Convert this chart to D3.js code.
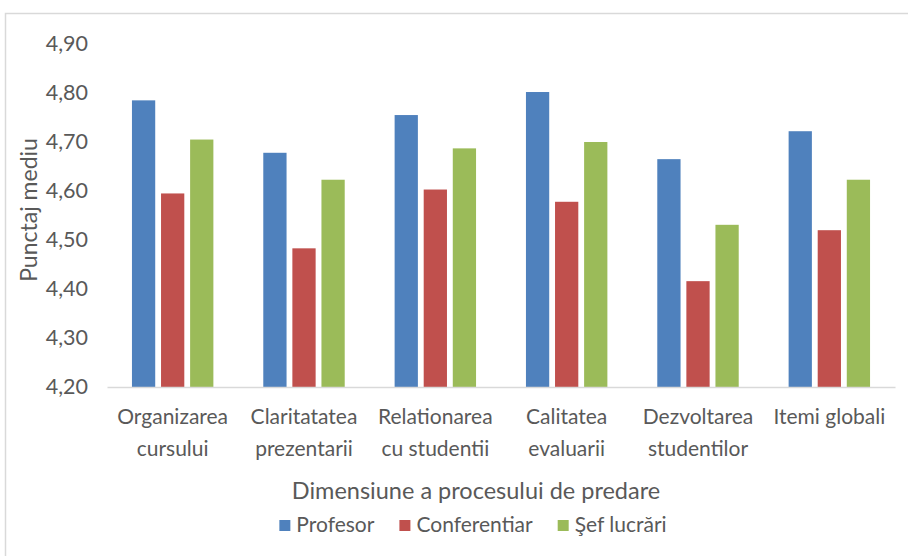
<!DOCTYPE html>
<html><head><meta charset="utf-8">
<script src="https://cdn.jsdelivr.net/npm/d3@7"></script>
<style>
html,body{margin:0;padding:0;background:#fff;}
svg{display:block;}
text{font-family:"Lato","Open Sans",sans-serif;fill:#595959;}
</style></head>
<body>
<svg id="chart" width="908" height="556"></svg>
<script>
const categories = [
  ["Organizarea","cursului"],
  ["Claritatatea","prezentarii"],
  ["Relationarea","cu studentii"],
  ["Calitatea","evaluarii"],
  ["Dezvoltarea","studentilor"],
  ["Itemi globali"]
];
const seriesNames = ["Profesor","Conferentiar","Şef lucrări"];
const profesor     = [4.785, 4.678, 4.755, 4.802, 4.665, 4.722];
const conferentiar = [4.595, 4.483, 4.603, 4.578, 4.416, 4.520];
const sefLucrari   = [4.705, 4.623, 4.687, 4.700, 4.531, 4.623];
const colors = ["#4F81BD","#C0504D","#9BBB59"];
const yTicks = [4.2,4.3,4.4,4.5,4.6,4.7,4.8,4.9];
const yTitle = "Punctaj mediu";
const xTitle = "Dimensiune a procesului de predare";

const seriesValues = [profesor, conferentiar, sefLucrari];
const svg = d3.select("#chart");

// frame
svg.append("rect").attr("x",5.5).attr("y",13.5).attr("width",1000).attr("height",700)
  .attr("fill","none").attr("stroke","#d9d9d9").attr("stroke-width",1.5);

const plotLeft = 107, plotRight = 895, plotTop = 44, plotBottom = 387;
const catIdx = categories.map((c,i)=>i);
const x0 = d3.scaleBand().domain(catIdx).range([plotLeft, plotRight]).paddingInner(0.38).paddingOuter(0.19);
const x1 = d3.scaleBand().domain([0,1,2]).range([0, x0.bandwidth()]).paddingInner(0.2).paddingOuter(0);
const y = d3.scaleLinear().domain([4.2,4.9]).range([plotBottom, plotTop]);

const loc = d3.formatLocale({decimal:",",thousands:".",grouping:[3],currency:["",""]});
const fmt = loc.format(".2f");

// y axis (labels only)
const yAxis = d3.axisLeft(y).tickValues(yTicks).tickFormat(fmt).tickSize(0).tickPadding(0);
const yg = svg.append("g").attr("transform",`translate(88,0)`).call(yAxis);
yg.select(".domain").remove();
yg.selectAll("text").style("font-size","21.5px").style("fill","#595959")
  .style("font-family",'"Lato",sans-serif');

// bars
const groups = svg.append("g").selectAll("g").data(catIdx).join("g")
  .attr("transform", i => `translate(${x0(i)},0)`);
groups.selectAll("rect").data(i => seriesValues.map((s,k)=>({k, v:s[i]}))).join("rect")
  .attr("x", d => x1(d.k)).attr("width", x1.bandwidth())
  .attr("y", d => y(d.v)).attr("height", d => y(4.2) - y(d.v))
  .attr("fill", d => colors[d.k]);

// x axis line
const xAxis = d3.axisBottom(x0).tickSize(0).tickFormat("");
const xg = svg.append("g").attr("transform",`translate(0,${plotBottom})`).call(xAxis);
xg.select(".domain").attr("stroke","#d9d9d9").attr("stroke-width",1.5);

// category labels
const lab = svg.append("g").selectAll("text").data(catIdx).join("text")
  .attr("x", i => x0(i) + x0.bandwidth()/2).attr("y", 424)
  .attr("text-anchor","middle").style("font-size","21px");
lab.each(function(i){
  const t = d3.select(this);
  categories[i].forEach((line,j)=>{
    t.append("tspan").attr("x", x0(i)+x0.bandwidth()/2).attr("dy", j===0?0:32).text(line);
  });
});

// axis titles
svg.append("text").attr("transform","translate(37,210) rotate(-90)")
  .attr("text-anchor","middle").style("font-size","23px").text(yTitle);
svg.append("text").attr("x",476).attr("y",499).attr("text-anchor","middle")
  .style("font-size","23.5px").text(xTitle);

// legend
const lg = svg.append("g");
let cx = 0;
seriesNames.forEach((name,k)=>{
  const g = lg.append("g");
  g.append("rect").attr("width",11).attr("height",11).attr("y",-12).attr("fill",colors[k]);
  const t = g.append("text").attr("x",17).attr("y",0).style("font-size","21px").text(name);
  const w = 17 + t.node().getComputedTextLength();
  g.attr("transform",`translate(${cx},0)`);
  cx += w + 25;
});
const totalW = cx - 25;
lg.attr("transform",`translate(${473 - totalW/2},532)`);
</script>
</body></html>
